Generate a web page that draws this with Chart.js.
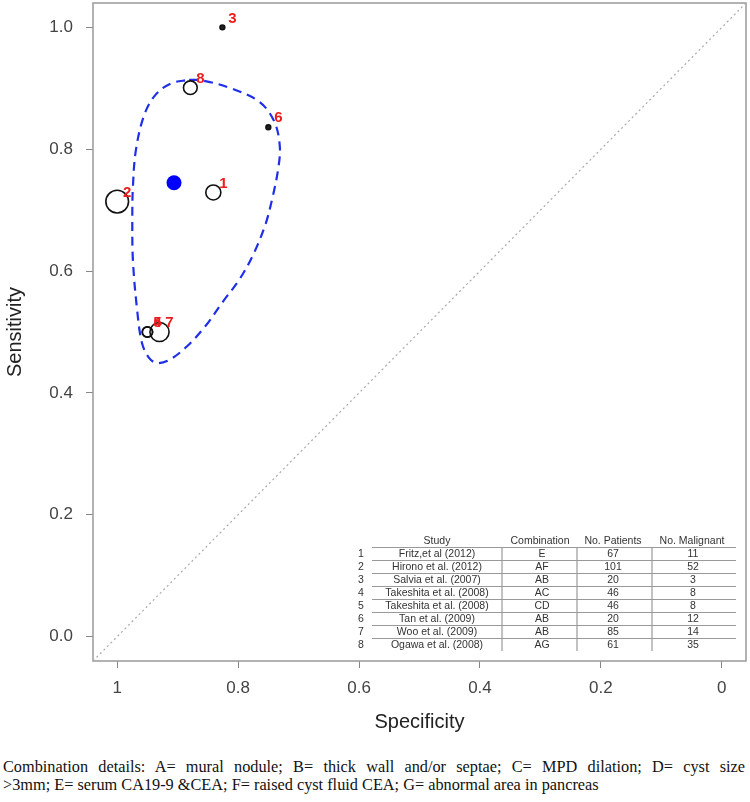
<!DOCTYPE html>
<html>
<head>
<meta charset="utf-8">
<script src="https://cdn.jsdelivr.net/npm/chart.js@4.4.1/dist/chart.umd.min.js"></script>
<style>
  body { margin: 0; background: #fff; width: 750px; height: 802px; position: relative; overflow: hidden; }
  #chart { position: absolute; left: 0; top: 0; }
  .cap { position: absolute; left: 3px; width: 742px; font-family: "Liberation Serif", serif; font-size: 16.3px; line-height: 18px; color: #111; white-space: nowrap; }
  #cap1 { top: 758px; text-align: justify; text-align-last: justify; white-space: normal; }
  #cap2 { top: 776px; }
</style>
</head>
<body>
<canvas id="chart" width="750" height="745"></canvas>
<div class="cap" id="cap1">Combination details: A= mural nodule; B= thick wall and/or septae; C= MPD dilation; D= cyst size</div>
<div class="cap" id="cap2">&gt;3mm; E= serum CA19-9 &amp;CEA; F= raised cyst fluid CEA; G= abnormal area in pancreas</div>
<script>
// study data
const studyNo = ["1", "2", "3", "4", "5", "6", "7", "8"];
const studies = ["Fritz,et al (2012)", "Hirono et al. (2012)", "Salvia et al. (2007)", "Takeshita et al. (2008)",
  "Takeshita et al. (2008)", "Tan et al. (2009)", "Woo et al. (2009)", "Ogawa et al. (2008)"];
const combinations = ["E", "AF", "AB", "AC", "CD", "AB", "AB", "AG"];
const patients = [67, 101, 20, 46, 46, 20, 85, 61];
const malignant = [11, 52, 3, 8, 8, 12, 14, 35];
const specificity = [0.841, 1.0, 0.826, 0.95, 0.95, 0.75, 0.93, 0.879];
const sensitivity = [0.729, 0.714, 1.0, 0.5, 0.5, 0.836, 0.5, 0.901];

// summary point
const summarySpec = [0.906];
const summarySens = [0.745];

// 95% confidence region outline
const regionSpec = [0.881, 0.860, 0.815, 0.765, 0.740, 0.731, 0.734, 0.744, 0.755, 0.775, 0.798, 0.825, 0.853,
  0.884, 0.914, 0.934, 0.947, 0.959, 0.967, 0.974, 0.975, 0.974, 0.969, 0.955, 0.936, 0.911];
const regionSens = [0.914, 0.913, 0.901, 0.878, 0.845, 0.804, 0.766, 0.717, 0.676, 0.627, 0.586, 0.550, 0.511,
  0.477, 0.454, 0.449, 0.457, 0.482, 0.536, 0.618, 0.689, 0.738, 0.799, 0.857, 0.890, 0.908];

const xTicks = [1, 0.8, 0.6, 0.4, 0.2, 0];
const xTickLabels = ["1", "0.8", "0.6", "0.4", "0.2", "0"];
const yTicks = [0, 0.2, 0.4, 0.6, 0.8, 1.0];
const yTickLabels = ["0.0", "0.2", "0.4", "0.6", "0.8", "1.0"];
const axisMin = -0.04, axisMax = 1.04;

const studyPts = specificity.map((s, i) => ({ x: s, y: sensitivity[i] }));
const regionPts = regionSpec.map((s, i) => ({ x: s, y: regionSens[i] }));
regionPts.push(regionPts[0]);
const summaryPts = summarySpec.map((s, i) => ({ x: s, y: summarySens[i] }));
const diagPts = [{ x: axisMax, y: axisMin }, { x: axisMin, y: axisMax }];

const extras = {
  id: "extras",
  beforeDatasetsDraw(chart) {
    const { ctx, chartArea: a } = chart;
    ctx.save();
    ctx.strokeStyle = "#999";
    ctx.lineWidth = 1.5;
    ctx.strokeRect(a.left, a.top, a.right - a.left, a.bottom - a.top);
    ctx.restore();
  },
  afterDatasetsDraw(chart) {
    const { ctx, chartArea: a } = chart;
    // red study numbers (drawn last to first so 4 sits over 5)
    const meta = chart.getDatasetMeta(2);
    ctx.save();
    ctx.fillStyle = "#ee1c1c";
    ctx.font = "bold 15px 'Liberation Sans'";
    ctx.textAlign = "center";
    ctx.textBaseline = "middle";
    for (let i = meta.data.length - 1; i >= 0; i--) {
      const pt = meta.data[i];
      ctx.fillText(studyNo[i], pt.x + 10, pt.y - 9);
    }

    // study table in the lower right corner
    const L = a.right - 391, B = a.bottom;
    const numX = L + 6, studyX = L + 82, comboX = L + 187, patX = L + 258, malX = L + 338;
    const seps = [L + 147, L + 222, L + 297];
    const headY = B - 120, step = 13;
    ctx.font = "10.5px 'Liberation Sans'";
    ctx.fillStyle = "#333";
    ctx.fillText("Study", studyX, headY);
    ctx.fillText("Combination", comboX - 2, headY);
    ctx.fillText("No. Patients", patX, headY);
    ctx.fillText("No. Malignant", malX - 1, headY);
    ctx.strokeStyle = "#999";
    ctx.lineWidth = 1.2;
    for (let i = 0; i < studies.length; i++) {
      const y = headY + step * (i + 1);
      ctx.fillText(studyNo[i], numX, y);
      ctx.fillText(studies[i], studyX, y);
      ctx.fillText(combinations[i], comboX, y);
      ctx.fillText(String(patients[i]), patX, y);
      ctx.fillText(String(malignant[i]), malX, y);
      ctx.beginPath();
      ctx.moveTo(L + 17, y - 6.5);
      ctx.lineTo(L + 381, y - 6.5);
      ctx.stroke();
    }
    seps.forEach(x => {
      ctx.beginPath();
      ctx.moveTo(x, headY + 6);
      ctx.lineTo(x, B - 10);
      ctx.stroke();
    });
    ctx.restore();
  }
};

const tickFont = { family: "'Liberation Sans'", size: 17 };
const titleFont = { family: "'Liberation Sans'", size: 20 };

new Chart(document.getElementById("chart").getContext("2d"), {
  type: "scatter",
  data: {
    datasets: [
      {
        data: diagPts, showLine: true, pointRadius: 0, borderColor: "#aaa", borderWidth: 1.2,
        borderDash: [2, 3], order: 4
      },
      {
        data: regionPts, showLine: true, pointRadius: 0, borderColor: "#1f2fe8", borderWidth: 2.2,
        borderDash: [9, 6], tension: 0.35, order: 3
      },
      {
        data: studyPts,
        pointRadius: patients.map(n => (n <= 20 ? 2.4 : n / 8.9)),
        pointBackgroundColor: patients.map(n => (n <= 20 ? "#222" : "rgba(255,255,255,0)")),
        pointBorderColor: "#111", pointBorderWidth: 1.6, order: 2
      },
      {
        data: summaryPts, pointRadius: 7.5, pointBackgroundColor: "#0000ff", pointBorderColor: "#0000ff",
        pointBorderWidth: 0, order: 1
      }
    ]
  },
  options: {
    responsive: false,
    animation: false,
    events: [],
    layout: { autoPadding: false, padding: { top: 3, right: 4, left: 0, bottom: 0 } },
    plugins: { legend: { display: false }, tooltip: { enabled: false } },
    scales: {
      x: {
        type: "linear", reverse: true, min: axisMin, max: axisMax,
        afterBuildTicks: s => { s.ticks = xTicks.map(v => ({ value: v })); },
        afterFit: s => { s.height = 84; s.paddingLeft = 0; s.paddingRight = 0; },
        ticks: {
          font: tickFont, color: "#444", padding: 10,
          callback: v => xTickLabels[xTicks.indexOf(v)]
        },
        grid: { drawOnChartArea: false, drawTicks: true, tickLength: 7, tickColor: "#888" },
        border: { display: false },
        title: { display: true, text: "Specificity", font: titleFont, color: "#222", padding: { top: 0, bottom: 11 } }
      },
      y: {
        type: "linear", min: axisMin, max: axisMax,
        afterBuildTicks: s => { s.ticks = yTicks.map(v => ({ value: v })); },
        afterFit: s => { s.width = 93; s.paddingTop = 0; s.paddingBottom = 0; },
        ticks: {
          font: tickFont, color: "#444", padding: 13,
          callback: v => yTickLabels[yTicks.indexOf(v)]
        },
        grid: { drawOnChartArea: false, drawTicks: true, tickLength: 7, tickColor: "#888" },
        border: { display: false },
        title: { display: true, text: "Sensitivity", font: titleFont, color: "#222", padding: { top: 3, bottom: 0 } }
      }
    }
  },
  plugins: [extras]
});
</script>
</body>
</html>
